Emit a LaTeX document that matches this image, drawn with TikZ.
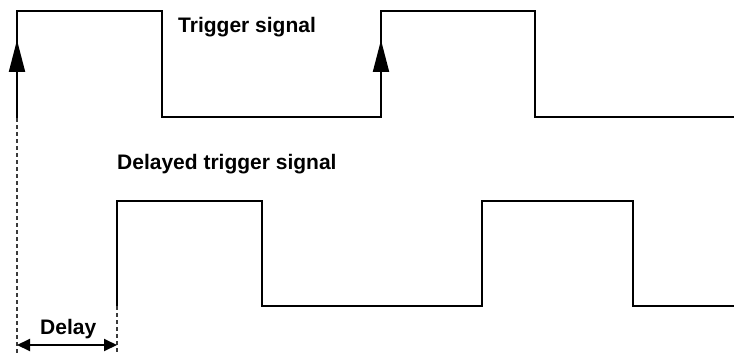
\documentclass[tikz,border=0pt]{standalone}
\usepackage{fontspec}
\setmainfont{Liberation Sans}
\usetikzlibrary{arrows.meta}
\definecolor{ink}{HTML}{000000}
\definecolor{guide}{HTML}{3A3A3A}
\tikzset{
  wave/.style     ={draw=ink, line width=2pt, line join=miter},
  edgetip/.style  ={-{Triangle[length=32pt,width=16pt]}, draw=ink, line width=2pt},
  guideline/.style={draw=guide, line width=1.5pt, dash pattern=on 4pt off 3pt},
  span/.style     ={{Triangle[length=13pt,width=12pt]}-{Triangle[length=13pt,width=12pt]},
                    draw=ink, line width=2pt},
  caption/.style  ={font=\bfseries\fontsize{21}{24}\selectfont, inner sep=0pt,
                    anchor=base west, text=ink}
}

\begin{document}
\begin{tikzpicture}[x=1pt, y=-1pt]
  \useasboundingbox (0,0) rectangle (734,353);

  % trigger signal
  \coordinate (trigA) at (17,118);
  \coordinate (trigB) at (381,117);
  \draw[wave] (trigA) -- (17,11) -- (162,11) -- (162,117) -- (trigB)
              -- (381,11) -- (535,11) -- (535,117) -- (734,117);
  \draw[edgetip] (trigA) -- (17,40);
  \draw[edgetip] (trigB) -- (381,40);
  \node[caption] (trigtext) at (178,33) {Trigger signal};

  % delayed trigger signal
  \coordinate (delA) at (117,306);
  \draw[wave] (delA) -- (117,201) -- (262,201) -- (262,306) -- (482,306)
              -- (482,201) -- (633,201) -- (633,306) -- (734,306);
  \node[caption] (deltext) at (117,169) {Delayed trigger signal};

  % delay span
  \coordinate (guideA) at (17,353);
  \coordinate (guideB) at (117,353);
  \coordinate (spanA) at (17,345);
  \coordinate (spanB) at (117,345);
  \draw[guideline] (trigA) -- (guideA);
  \draw[guideline] (delA) -- (guideB);
  \draw[span] (spanA) -- (spanB);
  \node[caption] (spantext) at (40,334) {Delay};
\end{tikzpicture}
\end{document}
